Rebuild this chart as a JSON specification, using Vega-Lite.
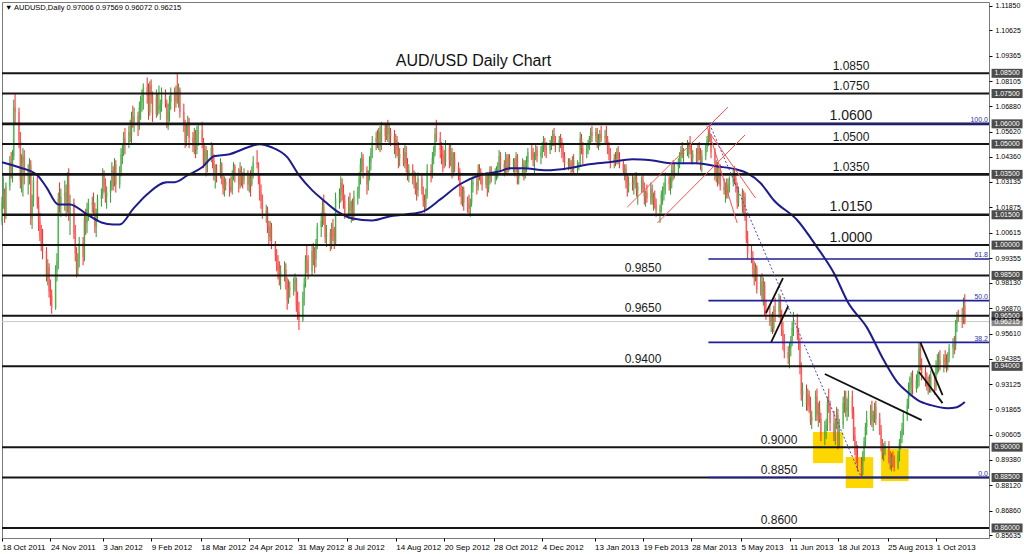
{
"$schema":"https://vega.github.io/schema/vega-lite/v6.json",
"width":987,"height":536,
"autosize":{"type":"none"},
"padding":{"left":2,"top":2,"right":35,"bottom":16},
"background":"white",
"title":{"text":"AUD/USD Daily Chart","fontSize":16,"fontWeight":"normal","font":"Liberation Sans","color":"#111111","anchor":"middle","frame":"group","offset":0,"dy":80,"dx":-22,"baseline":"alphabetic"},
"config":{"view":{"stroke":"#7a7a7a","strokeWidth":1},"scale":{"zero":false},"axis":{"grid":false,"domain":false,"labelFont":"Liberation Sans","labelColor":"#000000","tickColor":"#000000"},"text":{"font":"Liberation Sans"}},
"encoding":{
 "x":{"type":"temporal","scale":{"type":"utc","domain":[{"year":2011,"month":10,"date":18,"utc":true},{"year":2013,"month":11,"date":10,"hours":12,"utc":true}]},
  "axis":{"values":[{"year":2011,"month":10,"date":18,"utc":true},{"year":2011,"month":11,"date":24,"utc":true},{"year":2012,"month":1,"date":3,"utc":true},{"year":2012,"month":2,"date":9,"utc":true},{"year":2012,"month":3,"date":18,"utc":true},{"year":2012,"month":4,"date":24,"utc":true},{"year":2012,"month":5,"date":31,"utc":true},{"year":2012,"month":7,"date":8,"utc":true},{"year":2012,"month":8,"date":14,"utc":true},{"year":2012,"month":9,"date":20,"utc":true},{"year":2012,"month":10,"date":28,"utc":true},{"year":2012,"month":12,"date":4,"utc":true},{"year":2013,"month":1,"date":13,"utc":true},{"year":2013,"month":2,"date":19,"utc":true},{"year":2013,"month":3,"date":28,"utc":true},{"year":2013,"month":5,"date":5,"utc":true},{"year":2013,"month":6,"date":11,"utc":true},{"year":2013,"month":7,"date":18,"utc":true},{"year":2013,"month":8,"date":25,"utc":true},{"year":2013,"month":10,"date":1,"utc":true}],
   "labelExpr":"utcFormat(datum.value, '%-d %b %Y')","labelAlign":"left","labelFontSize":8,"tickSize":3,"labelPadding":2,"title":null,"labelOverlap":false,"labelFlush":false}},
 "y":{"type":"quantitative","scale":{"domain":[0.85505,1.1203],"zero":false,"nice":false},
  "axis":{"orient":"right","values":[1.1185,1.10625,1.09365,1.08105,1.0688,1.0562,1.0436,1.03135,1.01875,1.00615,0.99355,0.9813,0.9687,0.9561,0.94385,0.93125,0.91865,0.90605,0.8938,0.8812,0.8686,0.85635],"format":".5f","labelFontSize":7,"tickSize":3,"labelPadding":3,"title":null,"labelOverlap":false}}
},
"datasets":{
"c":[
{"d":"2011-10-18","o":1.012,"h":1.024,"l":1.010,"c":1.021},{"d":"2011-10-19","o":1.021,"h":1.034,"l":1.018,"c":1.026},{"d":"2011-10-20","o":1.026,"h":1.028,"l":1.011,"c":1.015},{"d":"2011-10-21","o":1.015,"h":1.031,"l":1.013,"c":1.029},
{"d":"2011-10-24","o":1.029,"h":1.044,"l":1.027,"c":1.041},{"d":"2011-10-25","o":1.041,"h":1.046,"l":1.033,"c":1.037},{"d":"2011-10-26","o":1.037,"h":1.047,"l":1.031,"c":1.044},{"d":"2011-10-27","o":1.044,"h":1.072,"l":1.042,"c":1.068},{"d":"2011-10-28","o":1.068,"h":1.075,"l":1.060,"c":1.066},
{"d":"2011-10-31","o":1.066,"h":1.068,"l":1.048,"c":1.052},{"d":"2011-11-01","o":1.052,"h":1.056,"l":1.028,"c":1.032},{"d":"2011-11-02","o":1.032,"h":1.045,"l":1.026,"c":1.041},{"d":"2011-11-03","o":1.041,"h":1.048,"l":1.024,"c":1.044},{"d":"2011-11-04","o":1.044,"h":1.047,"l":1.030,"c":1.034},
{"d":"2011-11-07","o":1.034,"h":1.040,"l":1.025,"c":1.037},{"d":"2011-11-08","o":1.037,"h":1.043,"l":1.030,"c":1.040},{"d":"2011-11-09","o":1.040,"h":1.042,"l":1.010,"c":1.013},{"d":"2011-11-10","o":1.013,"h":1.025,"l":1.008,"c":1.022},{"d":"2011-11-11","o":1.022,"h":1.034,"l":1.019,"c":1.032},
{"d":"2011-11-14","o":1.032,"h":1.034,"l":1.018,"c":1.020},{"d":"2011-11-15","o":1.020,"h":1.024,"l":1.007,"c":1.012},{"d":"2011-11-16","o":1.012,"h":1.016,"l":1.002,"c":1.004},{"d":"2011-11-17","o":1.004,"h":1.010,"l":0.997,"c":1.001},{"d":"2011-11-18","o":1.001,"h":1.008,"l":0.993,"c":0.997},
{"d":"2011-11-21","o":0.997,"h":0.999,"l":0.982,"c":0.985},{"d":"2011-11-22","o":0.985,"h":0.993,"l":0.980,"c":0.989},{"d":"2011-11-23","o":0.989,"h":0.991,"l":0.974,"c":0.977},{"d":"2011-11-24","o":0.977,"h":0.983,"l":0.970,"c":0.975},{"d":"2011-11-25","o":0.975,"h":0.978,"l":0.966,"c":0.969},
{"d":"2011-11-28","o":0.969,"h":0.990,"l":0.968,"c":0.987},{"d":"2011-11-29","o":0.987,"h":0.996,"l":0.982,"c":0.992},{"d":"2011-11-30","o":0.992,"h":1.026,"l":0.988,"c":1.023},{"d":"2011-12-01","o":1.023,"h":1.031,"l":1.016,"c":1.020},{"d":"2011-12-02","o":1.020,"h":1.028,"l":1.014,"c":1.024},
{"d":"2011-12-05","o":1.024,"h":1.032,"l":1.017,"c":1.026},{"d":"2011-12-06","o":1.026,"h":1.030,"l":1.014,"c":1.020},{"d":"2011-12-07","o":1.020,"h":1.036,"l":1.016,"c":1.030},{"d":"2011-12-08","o":1.030,"h":1.038,"l":1.012,"c":1.015},{"d":"2011-12-09","o":1.015,"h":1.025,"l":1.005,"c":1.021},
{"d":"2011-12-12","o":1.021,"h":1.023,"l":1.003,"c":1.006},{"d":"2011-12-13","o":1.006,"h":1.010,"l":0.992,"c":0.996},{"d":"2011-12-14","o":0.996,"h":0.999,"l":0.984,"c":0.988},{"d":"2011-12-15","o":0.988,"h":0.996,"l":0.985,"c":0.993},{"d":"2011-12-16","o":0.993,"h":1.004,"l":0.989,"c":1.001},
{"d":"2011-12-19","o":1.001,"h":1.004,"l":0.990,"c":0.994},{"d":"2011-12-20","o":0.994,"h":1.015,"l":0.992,"c":1.013},{"d":"2011-12-21","o":1.013,"h":1.018,"l":1.005,"c":1.011},{"d":"2011-12-22","o":1.011,"h":1.021,"l":1.006,"c":1.018},{"d":"2011-12-23","o":1.018,"h":1.023,"l":1.012,"c":1.020},
{"d":"2011-12-26","o":1.020,"h":1.024,"l":1.016,"c":1.021},{"d":"2011-12-27","o":1.021,"h":1.026,"l":1.015,"c":1.018},{"d":"2011-12-28","o":1.018,"h":1.021,"l":1.006,"c":1.009},{"d":"2011-12-29","o":1.009,"h":1.018,"l":1.004,"c":1.015},{"d":"2011-12-30","o":1.015,"h":1.025,"l":1.012,"c":1.023},
{"d":"2012-01-02","o":1.023,"h":1.028,"l":1.019,"c":1.025},{"d":"2012-01-03","o":1.025,"h":1.038,"l":1.023,"c":1.035},{"d":"2012-01-04","o":1.035,"h":1.037,"l":1.026,"c":1.030},{"d":"2012-01-05","o":1.030,"h":1.033,"l":1.021,"c":1.024},{"d":"2012-01-06","o":1.024,"h":1.029,"l":1.018,"c":1.026},
{"d":"2012-01-09","o":1.026,"h":1.032,"l":1.021,"c":1.029},{"d":"2012-01-10","o":1.029,"h":1.041,"l":1.027,"c":1.037},{"d":"2012-01-11","o":1.037,"h":1.039,"l":1.027,"c":1.031},{"d":"2012-01-12","o":1.031,"h":1.043,"l":1.029,"c":1.040},{"d":"2012-01-13","o":1.040,"h":1.042,"l":1.026,"c":1.030},
{"d":"2012-01-16","o":1.030,"h":1.039,"l":1.028,"c":1.036},{"d":"2012-01-17","o":1.036,"h":1.048,"l":1.034,"c":1.045},{"d":"2012-01-18","o":1.045,"h":1.050,"l":1.040,"c":1.047},{"d":"2012-01-19","o":1.047,"h":1.056,"l":1.044,"c":1.053},{"d":"2012-01-20","o":1.053,"h":1.058,"l":1.045,"c":1.050},
{"d":"2012-01-23","o":1.050,"h":1.059,"l":1.048,"c":1.056},{"d":"2012-01-24","o":1.056,"h":1.062,"l":1.051,"c":1.054},{"d":"2012-01-25","o":1.054,"h":1.066,"l":1.050,"c":1.063},{"d":"2012-01-26","o":1.063,"h":1.069,"l":1.058,"c":1.061},{"d":"2012-01-27","o":1.061,"h":1.068,"l":1.056,"c":1.064},
{"d":"2012-01-30","o":1.064,"h":1.066,"l":1.054,"c":1.060},{"d":"2012-01-31","o":1.060,"h":1.071,"l":1.057,"c":1.068},{"d":"2012-02-01","o":1.068,"h":1.074,"l":1.062,"c":1.071},{"d":"2012-02-02","o":1.071,"h":1.077,"l":1.066,"c":1.073},{"d":"2012-02-03","o":1.073,"h":1.080,"l":1.067,"c":1.078},
{"d":"2012-02-06","o":1.078,"h":1.083,"l":1.070,"c":1.074},{"d":"2012-02-07","o":1.074,"h":1.080,"l":1.062,"c":1.066},{"d":"2012-02-08","o":1.066,"h":1.081,"l":1.064,"c":1.079},{"d":"2012-02-09","o":1.079,"h":1.082,"l":1.070,"c":1.074},{"d":"2012-02-10","o":1.074,"h":1.076,"l":1.061,"c":1.065},
{"d":"2012-02-13","o":1.065,"h":1.077,"l":1.063,"c":1.073},{"d":"2012-02-14","o":1.073,"h":1.075,"l":1.064,"c":1.067},{"d":"2012-02-15","o":1.067,"h":1.079,"l":1.065,"c":1.069},{"d":"2012-02-16","o":1.069,"h":1.072,"l":1.062,"c":1.070},{"d":"2012-02-17","o":1.070,"h":1.078,"l":1.066,"c":1.074},
{"d":"2012-02-20","o":1.074,"h":1.077,"l":1.068,"c":1.070},{"d":"2012-02-21","o":1.070,"h":1.072,"l":1.058,"c":1.062},{"d":"2012-02-22","o":1.062,"h":1.070,"l":1.057,"c":1.066},{"d":"2012-02-23","o":1.066,"h":1.074,"l":1.061,"c":1.071},{"d":"2012-02-24","o":1.071,"h":1.078,"l":1.067,"c":1.075},
{"d":"2012-02-27","o":1.075,"h":1.078,"l":1.066,"c":1.071},{"d":"2012-02-28","o":1.071,"h":1.079,"l":1.068,"c":1.076},{"d":"2012-02-29","o":1.076,"h":1.085,"l":1.070,"c":1.074},{"d":"2012-03-01","o":1.074,"h":1.080,"l":1.068,"c":1.077},{"d":"2012-03-02","o":1.077,"h":1.078,"l":1.063,"c":1.066},
{"d":"2012-03-05","o":1.066,"h":1.070,"l":1.056,"c":1.060},{"d":"2012-03-06","o":1.060,"h":1.062,"l":1.048,"c":1.051},{"d":"2012-03-07","o":1.051,"h":1.060,"l":1.049,"c":1.058},{"d":"2012-03-08","o":1.058,"h":1.064,"l":1.054,"c":1.061},{"d":"2012-03-09","o":1.061,"h":1.063,"l":1.048,"c":1.053},
{"d":"2012-03-12","o":1.053,"h":1.056,"l":1.046,"c":1.049},{"d":"2012-03-13","o":1.049,"h":1.058,"l":1.045,"c":1.055},{"d":"2012-03-14","o":1.055,"h":1.057,"l":1.043,"c":1.047},{"d":"2012-03-15","o":1.047,"h":1.059,"l":1.045,"c":1.055},{"d":"2012-03-16","o":1.055,"h":1.060,"l":1.049,"c":1.057},
{"d":"2012-03-19","o":1.057,"h":1.061,"l":1.048,"c":1.051},{"d":"2012-03-20","o":1.051,"h":1.053,"l":1.038,"c":1.042},{"d":"2012-03-21","o":1.042,"h":1.050,"l":1.039,"c":1.047},{"d":"2012-03-22","o":1.047,"h":1.049,"l":1.034,"c":1.040},{"d":"2012-03-23","o":1.040,"h":1.047,"l":1.036,"c":1.044},
{"d":"2012-03-26","o":1.044,"h":1.051,"l":1.041,"c":1.048},{"d":"2012-03-27","o":1.048,"h":1.050,"l":1.038,"c":1.042},{"d":"2012-03-28","o":1.042,"h":1.045,"l":1.032,"c":1.036},{"d":"2012-03-29","o":1.036,"h":1.040,"l":1.028,"c":1.037},{"d":"2012-03-30","o":1.037,"h":1.040,"l":1.031,"c":1.035},
{"d":"2012-04-02","o":1.035,"h":1.043,"l":1.033,"c":1.040},{"d":"2012-04-03","o":1.040,"h":1.041,"l":1.030,"c":1.033},{"d":"2012-04-04","o":1.033,"h":1.035,"l":1.025,"c":1.028},{"d":"2012-04-05","o":1.028,"h":1.034,"l":1.024,"c":1.031},{"d":"2012-04-06","o":1.031,"h":1.033,"l":1.027,"c":1.030},
{"d":"2012-04-09","o":1.030,"h":1.033,"l":1.024,"c":1.029},{"d":"2012-04-10","o":1.029,"h":1.034,"l":1.026,"c":1.027},{"d":"2012-04-11","o":1.027,"h":1.037,"l":1.025,"c":1.034},{"d":"2012-04-12","o":1.034,"h":1.041,"l":1.032,"c":1.039},{"d":"2012-04-13","o":1.039,"h":1.040,"l":1.031,"c":1.035},
{"d":"2012-04-16","o":1.035,"h":1.038,"l":1.026,"c":1.030},{"d":"2012-04-17","o":1.030,"h":1.041,"l":1.028,"c":1.037},{"d":"2012-04-18","o":1.037,"h":1.039,"l":1.029,"c":1.033},{"d":"2012-04-19","o":1.033,"h":1.036,"l":1.028,"c":1.032},{"d":"2012-04-20","o":1.032,"h":1.038,"l":1.030,"c":1.036},
{"d":"2012-04-23","o":1.036,"h":1.037,"l":1.027,"c":1.030},{"d":"2012-04-24","o":1.030,"h":1.035,"l":1.026,"c":1.033},{"d":"2012-04-25","o":1.033,"h":1.037,"l":1.024,"c":1.030},{"d":"2012-04-26","o":1.030,"h":1.039,"l":1.029,"c":1.036},{"d":"2012-04-27","o":1.036,"h":1.044,"l":1.033,"c":1.041},
{"d":"2012-04-30","o":1.041,"h":1.047,"l":1.038,"c":1.040},{"d":"2012-05-01","o":1.040,"h":1.041,"l":1.030,"c":1.033},{"d":"2012-05-02","o":1.033,"h":1.035,"l":1.022,"c":1.026},{"d":"2012-05-03","o":1.026,"h":1.030,"l":1.018,"c":1.022},{"d":"2012-05-04","o":1.022,"h":1.025,"l":1.013,"c":1.016},
{"d":"2012-05-07","o":1.016,"h":1.020,"l":1.011,"c":1.017},{"d":"2012-05-08","o":1.017,"h":1.019,"l":1.006,"c":1.009},{"d":"2012-05-09","o":1.009,"h":1.012,"l":1.000,"c":1.004},{"d":"2012-05-10","o":1.004,"h":1.012,"l":1.002,"c":1.009},{"d":"2012-05-11","o":1.009,"h":1.011,"l":0.998,"c":1.001},
{"d":"2012-05-14","o":1.001,"h":1.002,"l":0.992,"c":0.995},{"d":"2012-05-15","o":0.995,"h":0.998,"l":0.987,"c":0.991},{"d":"2012-05-16","o":0.991,"h":0.995,"l":0.983,"c":0.988},{"d":"2012-05-17","o":0.988,"h":0.992,"l":0.980,"c":0.984},{"d":"2012-05-18","o":0.984,"h":0.990,"l":0.978,"c":0.987},
{"d":"2012-05-21","o":0.987,"h":0.992,"l":0.982,"c":0.988},{"d":"2012-05-22","o":0.988,"h":0.991,"l":0.978,"c":0.981},{"d":"2012-05-23","o":0.981,"h":0.984,"l":0.968,"c":0.973},{"d":"2012-05-24","o":0.973,"h":0.983,"l":0.971,"c":0.979},{"d":"2012-05-25","o":0.979,"h":0.982,"l":0.974,"c":0.978},
{"d":"2012-05-28","o":0.978,"h":0.984,"l":0.975,"c":0.981},{"d":"2012-05-29","o":0.981,"h":0.986,"l":0.977,"c":0.983},{"d":"2012-05-30","o":0.983,"h":0.984,"l":0.967,"c":0.970},{"d":"2012-05-31","o":0.970,"h":0.977,"l":0.963,"c":0.967},{"d":"2012-06-01","o":0.967,"h":0.972,"l":0.958,"c":0.963},
{"d":"2012-06-04","o":0.963,"h":0.977,"l":0.962,"c":0.974},{"d":"2012-06-05","o":0.974,"h":0.984,"l":0.970,"c":0.981},{"d":"2012-06-06","o":0.981,"h":0.995,"l":0.979,"c":0.993},{"d":"2012-06-07","o":0.993,"h":1.000,"l":0.986,"c":0.992},{"d":"2012-06-08","o":0.992,"h":0.995,"l":0.983,"c":0.987},
{"d":"2012-06-11","o":0.987,"h":1.000,"l":0.985,"c":0.997},{"d":"2012-06-12","o":0.997,"h":1.001,"l":0.990,"c":0.995},{"d":"2012-06-13","o":0.995,"h":0.999,"l":0.986,"c":0.993},{"d":"2012-06-14","o":0.993,"h":1.003,"l":0.989,"c":1.001},{"d":"2012-06-15","o":1.001,"h":1.011,"l":0.998,"c":1.009},
{"d":"2012-06-18","o":1.009,"h":1.016,"l":1.004,"c":1.012},{"d":"2012-06-19","o":1.012,"h":1.022,"l":1.009,"c":1.019},{"d":"2012-06-20","o":1.019,"h":1.025,"l":1.010,"c":1.013},{"d":"2012-06-21","o":1.013,"h":1.016,"l":1.001,"c":1.004},{"d":"2012-06-22","o":1.004,"h":1.010,"l":0.999,"c":1.006},
{"d":"2012-06-25","o":1.006,"h":1.008,"l":0.997,"c":1.000},{"d":"2012-06-26","o":1.000,"h":1.011,"l":0.998,"c":1.008},{"d":"2012-06-27","o":1.008,"h":1.013,"l":1.002,"c":1.004},{"d":"2012-06-28","o":1.004,"h":1.009,"l":0.998,"c":1.001},{"d":"2012-06-29","o":1.001,"h":1.026,"l":1.000,"c":1.023},
{"d":"2012-07-02","o":1.023,"h":1.028,"l":1.018,"c":1.025},{"d":"2012-07-03","o":1.025,"h":1.034,"l":1.021,"c":1.031},{"d":"2012-07-04","o":1.031,"h":1.033,"l":1.022,"c":1.026},{"d":"2012-07-05","o":1.026,"h":1.030,"l":1.018,"c":1.022},{"d":"2012-07-06","o":1.022,"h":1.025,"l":1.013,"c":1.016},
{"d":"2012-07-09","o":1.016,"h":1.024,"l":1.013,"c":1.021},{"d":"2012-07-10","o":1.021,"h":1.026,"l":1.014,"c":1.017},{"d":"2012-07-11","o":1.017,"h":1.022,"l":1.011,"c":1.019},{"d":"2012-07-12","o":1.019,"h":1.023,"l":1.012,"c":1.014},{"d":"2012-07-13","o":1.014,"h":1.027,"l":1.012,"c":1.024},
{"d":"2012-07-16","o":1.024,"h":1.029,"l":1.020,"c":1.027},{"d":"2012-07-17","o":1.027,"h":1.036,"l":1.023,"c":1.033},{"d":"2012-07-18","o":1.033,"h":1.043,"l":1.030,"c":1.040},{"d":"2012-07-19","o":1.040,"h":1.046,"l":1.036,"c":1.043},{"d":"2012-07-20","o":1.043,"h":1.045,"l":1.033,"c":1.037},
{"d":"2012-07-23","o":1.037,"h":1.039,"l":1.025,"c":1.030},{"d":"2012-07-24","o":1.030,"h":1.037,"l":1.027,"c":1.035},{"d":"2012-07-25","o":1.035,"h":1.044,"l":1.032,"c":1.041},{"d":"2012-07-26","o":1.041,"h":1.048,"l":1.037,"c":1.046},{"d":"2012-07-27","o":1.046,"h":1.054,"l":1.043,"c":1.051},
{"d":"2012-07-30","o":1.051,"h":1.056,"l":1.047,"c":1.053},{"d":"2012-07-31","o":1.053,"h":1.057,"l":1.048,"c":1.050},{"d":"2012-08-01","o":1.050,"h":1.058,"l":1.047,"c":1.056},{"d":"2012-08-02","o":1.056,"h":1.059,"l":1.046,"c":1.049},{"d":"2012-08-03","o":1.049,"h":1.061,"l":1.047,"c":1.058},
{"d":"2012-08-06","o":1.058,"h":1.060,"l":1.051,"c":1.054},{"d":"2012-08-07","o":1.054,"h":1.060,"l":1.052,"c":1.058},{"d":"2012-08-08","o":1.058,"h":1.062,"l":1.051,"c":1.055},{"d":"2012-08-09","o":1.055,"h":1.060,"l":1.050,"c":1.056},{"d":"2012-08-10","o":1.056,"h":1.058,"l":1.049,"c":1.054},
{"d":"2012-08-13","o":1.054,"h":1.057,"l":1.045,"c":1.049},{"d":"2012-08-14","o":1.049,"h":1.055,"l":1.043,"c":1.052},{"d":"2012-08-15","o":1.052,"h":1.054,"l":1.044,"c":1.047},{"d":"2012-08-16","o":1.047,"h":1.051,"l":1.038,"c":1.043},{"d":"2012-08-17","o":1.043,"h":1.048,"l":1.039,"c":1.045},
{"d":"2012-08-20","o":1.045,"h":1.048,"l":1.039,"c":1.041},{"d":"2012-08-21","o":1.041,"h":1.050,"l":1.038,"c":1.046},{"d":"2012-08-22","o":1.046,"h":1.049,"l":1.036,"c":1.040},{"d":"2012-08-23","o":1.040,"h":1.043,"l":1.032,"c":1.035},{"d":"2012-08-24","o":1.035,"h":1.040,"l":1.031,"c":1.037},
{"d":"2012-08-27","o":1.037,"h":1.040,"l":1.030,"c":1.033},{"d":"2012-08-28","o":1.033,"h":1.037,"l":1.028,"c":1.034},{"d":"2012-08-29","o":1.034,"h":1.036,"l":1.025,"c":1.028},{"d":"2012-08-30","o":1.028,"h":1.031,"l":1.022,"c":1.027},{"d":"2012-08-31","o":1.027,"h":1.036,"l":1.024,"c":1.033},
{"d":"2012-09-03","o":1.033,"h":1.035,"l":1.025,"c":1.027},{"d":"2012-09-04","o":1.027,"h":1.029,"l":1.019,"c":1.022},{"d":"2012-09-05","o":1.022,"h":1.025,"l":1.016,"c":1.019},{"d":"2012-09-06","o":1.019,"h":1.028,"l":1.017,"c":1.025},{"d":"2012-09-07","o":1.025,"h":1.040,"l":1.023,"c":1.037},
{"d":"2012-09-10","o":1.037,"h":1.040,"l":1.031,"c":1.035},{"d":"2012-09-11","o":1.035,"h":1.046,"l":1.033,"c":1.043},{"d":"2012-09-12","o":1.043,"h":1.049,"l":1.040,"c":1.046},{"d":"2012-09-13","o":1.046,"h":1.058,"l":1.044,"c":1.055},{"d":"2012-09-14","o":1.055,"h":1.062,"l":1.051,"c":1.053},
{"d":"2012-09-17","o":1.053,"h":1.056,"l":1.043,"c":1.047},{"d":"2012-09-18","o":1.047,"h":1.051,"l":1.040,"c":1.045},{"d":"2012-09-19","o":1.045,"h":1.049,"l":1.036,"c":1.044},{"d":"2012-09-20","o":1.044,"h":1.047,"l":1.038,"c":1.041},{"d":"2012-09-21","o":1.041,"h":1.052,"l":1.039,"c":1.048},
{"d":"2012-09-24","o":1.048,"h":1.050,"l":1.038,"c":1.042},{"d":"2012-09-25","o":1.042,"h":1.050,"l":1.039,"c":1.046},{"d":"2012-09-26","o":1.046,"h":1.048,"l":1.033,"c":1.036},{"d":"2012-09-27","o":1.036,"h":1.046,"l":1.034,"c":1.043},{"d":"2012-09-28","o":1.043,"h":1.046,"l":1.036,"c":1.039},
{"d":"2012-10-01","o":1.039,"h":1.041,"l":1.032,"c":1.036},{"d":"2012-10-02","o":1.036,"h":1.038,"l":1.024,"c":1.027},{"d":"2012-10-03","o":1.027,"h":1.030,"l":1.020,"c":1.024},{"d":"2012-10-04","o":1.024,"h":1.029,"l":1.019,"c":1.027},{"d":"2012-10-05","o":1.027,"h":1.029,"l":1.017,"c":1.021},
{"d":"2012-10-08","o":1.021,"h":1.024,"l":1.016,"c":1.020},{"d":"2012-10-09","o":1.020,"h":1.025,"l":1.015,"c":1.018},{"d":"2012-10-10","o":1.018,"h":1.023,"l":1.014,"c":1.021},{"d":"2012-10-11","o":1.021,"h":1.033,"l":1.019,"c":1.030},{"d":"2012-10-12","o":1.030,"h":1.034,"l":1.026,"c":1.031},
{"d":"2012-10-15","o":1.031,"h":1.034,"l":1.025,"c":1.029},{"d":"2012-10-16","o":1.029,"h":1.040,"l":1.027,"c":1.037},{"d":"2012-10-17","o":1.037,"h":1.040,"l":1.032,"c":1.035},{"d":"2012-10-18","o":1.035,"h":1.038,"l":1.030,"c":1.033},{"d":"2012-10-19","o":1.033,"h":1.036,"l":1.027,"c":1.030},
{"d":"2012-10-22","o":1.030,"h":1.036,"l":1.028,"c":1.034},{"d":"2012-10-23","o":1.034,"h":1.036,"l":1.024,"c":1.028},{"d":"2012-10-24","o":1.028,"h":1.035,"l":1.026,"c":1.033},{"d":"2012-10-25","o":1.033,"h":1.039,"l":1.030,"c":1.037},{"d":"2012-10-26","o":1.037,"h":1.039,"l":1.031,"c":1.035},
{"d":"2012-10-29","o":1.035,"h":1.038,"l":1.030,"c":1.036},{"d":"2012-10-30","o":1.036,"h":1.039,"l":1.032,"c":1.037},{"d":"2012-10-31","o":1.037,"h":1.041,"l":1.033,"c":1.038},{"d":"2012-11-01","o":1.038,"h":1.047,"l":1.036,"c":1.044},{"d":"2012-11-02","o":1.044,"h":1.046,"l":1.036,"c":1.040},
{"d":"2012-11-05","o":1.040,"h":1.042,"l":1.034,"c":1.037},{"d":"2012-11-06","o":1.037,"h":1.046,"l":1.035,"c":1.043},{"d":"2012-11-07","o":1.043,"h":1.045,"l":1.035,"c":1.038},{"d":"2012-11-08","o":1.038,"h":1.045,"l":1.036,"c":1.043},{"d":"2012-11-09","o":1.043,"h":1.045,"l":1.037,"c":1.040},
{"d":"2012-11-12","o":1.040,"h":1.043,"l":1.036,"c":1.041},{"d":"2012-11-13","o":1.041,"h":1.043,"l":1.034,"c":1.038},{"d":"2012-11-14","o":1.038,"h":1.046,"l":1.036,"c":1.044},{"d":"2012-11-15","o":1.044,"h":1.045,"l":1.030,"c":1.033},{"d":"2012-11-16","o":1.033,"h":1.038,"l":1.030,"c":1.035},
{"d":"2012-11-19","o":1.035,"h":1.043,"l":1.034,"c":1.040},{"d":"2012-11-20","o":1.040,"h":1.042,"l":1.032,"c":1.036},{"d":"2012-11-21","o":1.036,"h":1.042,"l":1.033,"c":1.039},{"d":"2012-11-22","o":1.039,"h":1.044,"l":1.036,"c":1.041},{"d":"2012-11-23","o":1.041,"h":1.048,"l":1.038,"c":1.046},
{"d":"2012-11-26","o":1.046,"h":1.050,"l":1.042,"c":1.045},{"d":"2012-11-27","o":1.045,"h":1.048,"l":1.039,"c":1.043},{"d":"2012-11-28","o":1.043,"h":1.046,"l":1.035,"c":1.044},{"d":"2012-11-29","o":1.044,"h":1.050,"l":1.042,"c":1.047},{"d":"2012-11-30","o":1.047,"h":1.049,"l":1.041,"c":1.044},
{"d":"2012-12-03","o":1.044,"h":1.049,"l":1.040,"c":1.046},{"d":"2012-12-04","o":1.046,"h":1.051,"l":1.043,"c":1.049},{"d":"2012-12-05","o":1.049,"h":1.054,"l":1.046,"c":1.050},{"d":"2012-12-06","o":1.050,"h":1.053,"l":1.044,"c":1.048},{"d":"2012-12-07","o":1.048,"h":1.051,"l":1.043,"c":1.047},
{"d":"2012-12-10","o":1.047,"h":1.052,"l":1.045,"c":1.050},{"d":"2012-12-11","o":1.050,"h":1.054,"l":1.047,"c":1.052},{"d":"2012-12-12","o":1.052,"h":1.057,"l":1.049,"c":1.055},{"d":"2012-12-13","o":1.055,"h":1.058,"l":1.049,"c":1.051},{"d":"2012-12-14","o":1.051,"h":1.054,"l":1.046,"c":1.050},
{"d":"2012-12-17","o":1.050,"h":1.054,"l":1.046,"c":1.052},{"d":"2012-12-18","o":1.052,"h":1.055,"l":1.048,"c":1.051},{"d":"2012-12-19","o":1.051,"h":1.053,"l":1.043,"c":1.046},{"d":"2012-12-20","o":1.046,"h":1.050,"l":1.041,"c":1.044},{"d":"2012-12-21","o":1.044,"h":1.046,"l":1.037,"c":1.040},
{"d":"2012-12-24","o":1.040,"h":1.043,"l":1.037,"c":1.041},{"d":"2012-12-25","o":1.041,"h":1.043,"l":1.038,"c":1.040},{"d":"2012-12-26","o":1.040,"h":1.042,"l":1.035,"c":1.038},{"d":"2012-12-27","o":1.038,"h":1.044,"l":1.036,"c":1.042},{"d":"2012-12-28","o":1.042,"h":1.045,"l":1.035,"c":1.038},
{"d":"2012-12-31","o":1.038,"h":1.042,"l":1.035,"c":1.039},{"d":"2013-01-01","o":1.039,"h":1.041,"l":1.037,"c":1.040},{"d":"2013-01-02","o":1.040,"h":1.056,"l":1.039,"c":1.053},{"d":"2013-01-03","o":1.053,"h":1.055,"l":1.045,"c":1.048},{"d":"2013-01-04","o":1.048,"h":1.051,"l":1.040,"c":1.045},
{"d":"2013-01-07","o":1.045,"h":1.050,"l":1.043,"c":1.048},{"d":"2013-01-08","o":1.048,"h":1.052,"l":1.045,"c":1.050},{"d":"2013-01-09","o":1.050,"h":1.054,"l":1.047,"c":1.053},{"d":"2013-01-10","o":1.053,"h":1.058,"l":1.050,"c":1.056},{"d":"2013-01-11","o":1.056,"h":1.059,"l":1.051,"c":1.054},
{"d":"2013-01-14","o":1.054,"h":1.058,"l":1.051,"c":1.056},{"d":"2013-01-15","o":1.056,"h":1.058,"l":1.048,"c":1.050},{"d":"2013-01-16","o":1.050,"h":1.055,"l":1.047,"c":1.052},{"d":"2013-01-17","o":1.052,"h":1.057,"l":1.049,"c":1.055},{"d":"2013-01-18","o":1.055,"h":1.059,"l":1.051,"c":1.053},
{"d":"2013-01-21","o":1.053,"h":1.057,"l":1.050,"c":1.054},{"d":"2013-01-22","o":1.054,"h":1.059,"l":1.050,"c":1.052},{"d":"2013-01-23","o":1.052,"h":1.054,"l":1.045,"c":1.048},{"d":"2013-01-24","o":1.048,"h":1.051,"l":1.042,"c":1.045},{"d":"2013-01-25","o":1.045,"h":1.048,"l":1.038,"c":1.041},
{"d":"2013-01-28","o":1.041,"h":1.045,"l":1.038,"c":1.043},{"d":"2013-01-29","o":1.043,"h":1.046,"l":1.039,"c":1.041},{"d":"2013-01-30","o":1.041,"h":1.048,"l":1.040,"c":1.046},{"d":"2013-01-31","o":1.046,"h":1.049,"l":1.040,"c":1.043},{"d":"2013-02-01","o":1.043,"h":1.046,"l":1.038,"c":1.040},
{"d":"2013-02-04","o":1.040,"h":1.042,"l":1.035,"c":1.037},{"d":"2013-02-05","o":1.037,"h":1.040,"l":1.032,"c":1.038},{"d":"2013-02-06","o":1.038,"h":1.040,"l":1.028,"c":1.031},{"d":"2013-02-07","o":1.031,"h":1.035,"l":1.024,"c":1.029},{"d":"2013-02-08","o":1.029,"h":1.034,"l":1.026,"c":1.031},
{"d":"2013-02-11","o":1.031,"h":1.035,"l":1.027,"c":1.030},{"d":"2013-02-12","o":1.030,"h":1.034,"l":1.025,"c":1.032},{"d":"2013-02-13","o":1.032,"h":1.036,"l":1.028,"c":1.034},{"d":"2013-02-14","o":1.034,"h":1.036,"l":1.024,"c":1.027},{"d":"2013-02-15","o":1.027,"h":1.031,"l":1.020,"c":1.029},
{"d":"2013-02-18","o":1.029,"h":1.034,"l":1.026,"c":1.032},{"d":"2013-02-19","o":1.032,"h":1.035,"l":1.026,"c":1.028},{"d":"2013-02-20","o":1.028,"h":1.031,"l":1.020,"c":1.024},{"d":"2013-02-21","o":1.024,"h":1.027,"l":1.019,"c":1.026},{"d":"2013-02-22","o":1.026,"h":1.030,"l":1.021,"c":1.023},
{"d":"2013-02-25","o":1.023,"h":1.031,"l":1.020,"c":1.028},{"d":"2013-02-26","o":1.028,"h":1.030,"l":1.020,"c":1.022},{"d":"2013-02-27","o":1.022,"h":1.026,"l":1.017,"c":1.024},{"d":"2013-02-28","o":1.024,"h":1.027,"l":1.018,"c":1.020},{"d":"2013-03-01","o":1.020,"h":1.023,"l":1.014,"c":1.017},
{"d":"2013-03-04","o":1.017,"h":1.020,"l":1.011,"c":1.018},{"d":"2013-03-05","o":1.018,"h":1.027,"l":1.016,"c":1.025},{"d":"2013-03-06","o":1.025,"h":1.029,"l":1.020,"c":1.027},{"d":"2013-03-07","o":1.027,"h":1.031,"l":1.022,"c":1.029},{"d":"2013-03-08","o":1.029,"h":1.036,"l":1.025,"c":1.033},
{"d":"2013-03-11","o":1.033,"h":1.035,"l":1.027,"c":1.030},{"d":"2013-03-12","o":1.030,"h":1.034,"l":1.025,"c":1.031},{"d":"2013-03-13","o":1.031,"h":1.040,"l":1.028,"c":1.037},{"d":"2013-03-14","o":1.037,"h":1.042,"l":1.032,"c":1.035},{"d":"2013-03-15","o":1.035,"h":1.041,"l":1.033,"c":1.039},
{"d":"2013-03-18","o":1.039,"h":1.043,"l":1.035,"c":1.041},{"d":"2013-03-19","o":1.041,"h":1.046,"l":1.038,"c":1.044},{"d":"2013-03-20","o":1.044,"h":1.049,"l":1.041,"c":1.047},{"d":"2013-03-21","o":1.047,"h":1.051,"l":1.043,"c":1.045},{"d":"2013-03-22","o":1.045,"h":1.048,"l":1.040,"c":1.046},
{"d":"2013-03-25","o":1.046,"h":1.052,"l":1.044,"c":1.048},{"d":"2013-03-26","o":1.048,"h":1.051,"l":1.043,"c":1.050},{"d":"2013-03-27","o":1.050,"h":1.054,"l":1.045,"c":1.047},{"d":"2013-03-28","o":1.047,"h":1.050,"l":1.040,"c":1.043},{"d":"2013-03-29","o":1.043,"h":1.047,"l":1.040,"c":1.045},
{"d":"2013-04-01","o":1.045,"h":1.048,"l":1.040,"c":1.042},{"d":"2013-04-02","o":1.042,"h":1.050,"l":1.041,"c":1.048},{"d":"2013-04-03","o":1.048,"h":1.051,"l":1.042,"c":1.045},{"d":"2013-04-04","o":1.045,"h":1.048,"l":1.037,"c":1.040},{"d":"2013-04-05","o":1.040,"h":1.047,"l":1.036,"c":1.044},
{"d":"2013-04-08","o":1.044,"h":1.050,"l":1.042,"c":1.048},{"d":"2013-04-09","o":1.048,"h":1.054,"l":1.046,"c":1.052},{"d":"2013-04-10","o":1.052,"h":1.057,"l":1.049,"c":1.055},{"d":"2013-04-11","o":1.055,"h":1.060,"l":1.051,"c":1.053},{"d":"2013-04-12","o":1.053,"h":1.055,"l":1.043,"c":1.046},
{"d":"2013-04-15","o":1.046,"h":1.048,"l":1.032,"c":1.035},{"d":"2013-04-16","o":1.035,"h":1.042,"l":1.031,"c":1.038},{"d":"2013-04-17","o":1.038,"h":1.041,"l":1.029,"c":1.033},{"d":"2013-04-18","o":1.033,"h":1.039,"l":1.030,"c":1.036},{"d":"2013-04-19","o":1.036,"h":1.040,"l":1.027,"c":1.029},
{"d":"2013-04-22","o":1.029,"h":1.033,"l":1.025,"c":1.027},{"d":"2013-04-23","o":1.027,"h":1.031,"l":1.021,"c":1.030},{"d":"2013-04-24","o":1.030,"h":1.033,"l":1.023,"c":1.025},{"d":"2013-04-25","o":1.025,"h":1.033,"l":1.023,"c":1.030},{"d":"2013-04-26","o":1.030,"h":1.034,"l":1.026,"c":1.031},
{"d":"2013-04-29","o":1.031,"h":1.038,"l":1.029,"c":1.035},{"d":"2013-04-30","o":1.035,"h":1.039,"l":1.030,"c":1.033},{"d":"2013-05-01","o":1.033,"h":1.035,"l":1.026,"c":1.029},{"d":"2013-05-02","o":1.029,"h":1.031,"l":1.018,"c":1.021},{"d":"2013-05-03","o":1.021,"h":1.029,"l":1.019,"c":1.026},
{"d":"2013-05-06","o":1.026,"h":1.028,"l":1.016,"c":1.019},{"d":"2013-05-07","o":1.019,"h":1.027,"l":1.015,"c":1.024},{"d":"2013-05-08","o":1.024,"h":1.026,"l":1.012,"c":1.014},{"d":"2013-05-09","o":1.014,"h":1.016,"l":1.001,"c":1.003},{"d":"2013-05-10","o":1.003,"h":1.007,"l":0.993,"c":0.996},
{"d":"2013-05-13","o":0.996,"h":1.000,"l":0.991,"c":0.994},{"d":"2013-05-14","o":0.994,"h":0.997,"l":0.984,"c":0.988},{"d":"2013-05-15","o":0.988,"h":0.992,"l":0.980,"c":0.985},{"d":"2013-05-16","o":0.985,"h":0.991,"l":0.982,"c":0.989},{"d":"2013-05-17","o":0.989,"h":0.990,"l":0.976,"c":0.978},
{"d":"2013-05-20","o":0.978,"h":0.985,"l":0.975,"c":0.982},{"d":"2013-05-21","o":0.982,"h":0.986,"l":0.972,"c":0.974},{"d":"2013-05-22","o":0.974,"h":0.984,"l":0.970,"c":0.980},{"d":"2013-05-23","o":0.980,"h":0.982,"l":0.965,"c":0.968},{"d":"2013-05-24","o":0.968,"h":0.973,"l":0.963,"c":0.966},
{"d":"2013-05-27","o":0.966,"h":0.970,"l":0.960,"c":0.962},{"d":"2013-05-28","o":0.962,"h":0.966,"l":0.957,"c":0.964},{"d":"2013-05-29","o":0.964,"h":0.967,"l":0.956,"c":0.959},{"d":"2013-05-30","o":0.959,"h":0.970,"l":0.957,"c":0.968},{"d":"2013-05-31","o":0.968,"h":0.974,"l":0.962,"c":0.967},
{"d":"2013-06-03","o":0.967,"h":0.976,"l":0.964,"c":0.972},{"d":"2013-06-04","o":0.972,"h":0.975,"l":0.962,"c":0.965},{"d":"2013-06-05","o":0.965,"h":0.968,"l":0.955,"c":0.958},{"d":"2013-06-06","o":0.958,"h":0.962,"l":0.948,"c":0.951},{"d":"2013-06-07","o":0.951,"h":0.956,"l":0.944,"c":0.947},
{"d":"2013-06-10","o":0.947,"h":0.950,"l":0.941,"c":0.944},{"d":"2013-06-11","o":0.944,"h":0.952,"l":0.939,"c":0.949},{"d":"2013-06-12","o":0.949,"h":0.955,"l":0.945,"c":0.953},{"d":"2013-06-13","o":0.953,"h":0.962,"l":0.950,"c":0.959},{"d":"2013-06-14","o":0.959,"h":0.967,"l":0.955,"c":0.963},
{"d":"2013-06-17","o":0.963,"h":0.966,"l":0.953,"c":0.956},{"d":"2013-06-18","o":0.956,"h":0.959,"l":0.948,"c":0.951},{"d":"2013-06-19","o":0.951,"h":0.954,"l":0.936,"c":0.939},{"d":"2013-06-20","o":0.939,"h":0.942,"l":0.923,"c":0.926},{"d":"2013-06-21","o":0.926,"h":0.932,"l":0.920,"c":0.928},
{"d":"2013-06-24","o":0.928,"h":0.931,"l":0.918,"c":0.921},{"d":"2013-06-25","o":0.921,"h":0.929,"l":0.918,"c":0.926},{"d":"2013-06-26","o":0.926,"h":0.928,"l":0.917,"c":0.920},{"d":"2013-06-27","o":0.920,"h":0.925,"l":0.911,"c":0.913},{"d":"2013-06-28","o":0.913,"h":0.918,"l":0.909,"c":0.915},
{"d":"2013-07-01","o":0.915,"h":0.928,"l":0.913,"c":0.925},{"d":"2013-07-02","o":0.925,"h":0.929,"l":0.913,"c":0.916},{"d":"2013-07-03","o":0.916,"h":0.922,"l":0.910,"c":0.919},{"d":"2013-07-04","o":0.919,"h":0.923,"l":0.912,"c":0.914},{"d":"2013-07-05","o":0.914,"h":0.917,"l":0.903,"c":0.906},
{"d":"2013-07-08","o":0.906,"h":0.913,"l":0.901,"c":0.909},{"d":"2013-07-09","o":0.909,"h":0.914,"l":0.904,"c":0.911},{"d":"2013-07-10","o":0.911,"h":0.925,"l":0.908,"c":0.922},{"d":"2013-07-11","o":0.922,"h":0.929,"l":0.917,"c":0.920},{"d":"2013-07-12","o":0.920,"h":0.923,"l":0.908,"c":0.912},
{"d":"2013-07-15","o":0.912,"h":0.918,"l":0.903,"c":0.906},{"d":"2013-07-16","o":0.906,"h":0.914,"l":0.901,"c":0.911},{"d":"2013-07-17","o":0.911,"h":0.920,"l":0.909,"c":0.916},{"d":"2013-07-18","o":0.916,"h":0.919,"l":0.899,"c":0.902},{"d":"2013-07-19","o":0.902,"h":0.914,"l":0.900,"c":0.911},
{"d":"2013-07-22","o":0.911,"h":0.925,"l":0.909,"c":0.922},{"d":"2013-07-23","o":0.922,"h":0.928,"l":0.917,"c":0.925},{"d":"2013-07-24","o":0.925,"h":0.928,"l":0.915,"c":0.918},{"d":"2013-07-25","o":0.918,"h":0.924,"l":0.913,"c":0.920},{"d":"2013-07-26","o":0.920,"h":0.928,"l":0.915,"c":0.925},
{"d":"2013-07-29","o":0.925,"h":0.928,"l":0.914,"c":0.917},{"d":"2013-07-30","o":0.917,"h":0.920,"l":0.903,"c":0.906},{"d":"2013-07-31","o":0.906,"h":0.910,"l":0.896,"c":0.899},{"d":"2013-08-01","o":0.899,"h":0.903,"l":0.892,"c":0.895},{"d":"2013-08-02","o":0.895,"h":0.901,"l":0.888,"c":0.891},
{"d":"2013-08-05","o":0.891,"h":0.895,"l":0.885,"c":0.887},{"d":"2013-08-06","o":0.887,"h":0.898,"l":0.886,"c":0.895},{"d":"2013-08-07","o":0.895,"h":0.905,"l":0.893,"c":0.903},{"d":"2013-08-08","o":0.903,"h":0.912,"l":0.900,"c":0.910},{"d":"2013-08-09","o":0.910,"h":0.918,"l":0.906,"c":0.914},
{"d":"2013-08-12","o":0.914,"h":0.921,"l":0.911,"c":0.918},{"d":"2013-08-13","o":0.918,"h":0.923,"l":0.910,"c":0.913},{"d":"2013-08-14","o":0.913,"h":0.918,"l":0.908,"c":0.916},{"d":"2013-08-15","o":0.916,"h":0.922,"l":0.912,"c":0.920},{"d":"2013-08-16","o":0.920,"h":0.923,"l":0.911,"c":0.914},
{"d":"2013-08-19","o":0.914,"h":0.917,"l":0.906,"c":0.908},{"d":"2013-08-20","o":0.908,"h":0.911,"l":0.898,"c":0.901},{"d":"2013-08-21","o":0.901,"h":0.904,"l":0.894,"c":0.897},{"d":"2013-08-22","o":0.897,"h":0.902,"l":0.893,"c":0.899},{"d":"2013-08-23","o":0.899,"h":0.903,"l":0.896,"c":0.900},
{"d":"2013-08-26","o":0.900,"h":0.903,"l":0.892,"c":0.894},{"d":"2013-08-27","o":0.894,"h":0.898,"l":0.889,"c":0.891},{"d":"2013-08-28","o":0.891,"h":0.897,"l":0.888,"c":0.895},{"d":"2013-08-29","o":0.895,"h":0.898,"l":0.890,"c":0.892},{"d":"2013-08-30","o":0.892,"h":0.896,"l":0.888,"c":0.890},
{"d":"2013-09-02","o":0.890,"h":0.898,"l":0.889,"c":0.896},{"d":"2013-09-03","o":0.896,"h":0.904,"l":0.893,"c":0.902},{"d":"2013-09-04","o":0.902,"h":0.908,"l":0.899,"c":0.905},{"d":"2013-09-05","o":0.905,"h":0.912,"l":0.902,"c":0.909},{"d":"2013-09-06","o":0.909,"h":0.918,"l":0.906,"c":0.916},
{"d":"2013-09-09","o":0.916,"h":0.924,"l":0.913,"c":0.921},{"d":"2013-09-10","o":0.921,"h":0.932,"l":0.919,"c":0.929},{"d":"2013-09-11","o":0.929,"h":0.935,"l":0.925,"c":0.931},{"d":"2013-09-12","o":0.931,"h":0.937,"l":0.926,"c":0.934},{"d":"2013-09-13","o":0.934,"h":0.938,"l":0.926,"c":0.929},
{"d":"2013-09-16","o":0.929,"h":0.936,"l":0.927,"c":0.933},{"d":"2013-09-17","o":0.933,"h":0.938,"l":0.929,"c":0.936},{"d":"2013-09-18","o":0.936,"h":0.952,"l":0.930,"c":0.949},{"d":"2013-09-19","o":0.949,"h":0.951,"l":0.938,"c":0.941},{"d":"2013-09-20","o":0.941,"h":0.944,"l":0.933,"c":0.936},
{"d":"2013-09-23","o":0.936,"h":0.940,"l":0.930,"c":0.933},{"d":"2013-09-24","o":0.933,"h":0.937,"l":0.928,"c":0.930},{"d":"2013-09-25","o":0.930,"h":0.935,"l":0.926,"c":0.933},{"d":"2013-09-26","o":0.933,"h":0.936,"l":0.927,"c":0.929},{"d":"2013-09-27","o":0.929,"h":0.938,"l":0.927,"c":0.935},
{"d":"2013-09-30","o":0.935,"h":0.937,"l":0.926,"c":0.930},{"d":"2013-10-01","o":0.930,"h":0.943,"l":0.928,"c":0.940},{"d":"2013-10-02","o":0.940,"h":0.946,"l":0.936,"c":0.942},{"d":"2013-10-03","o":0.942,"h":0.947,"l":0.937,"c":0.943},{"d":"2013-10-04","o":0.943,"h":0.948,"l":0.938,"c":0.941},
{"d":"2013-10-07","o":0.941,"h":0.946,"l":0.937,"c":0.944},{"d":"2013-10-08","o":0.944,"h":0.948,"l":0.939,"c":0.942},{"d":"2013-10-09","o":0.942,"h":0.946,"l":0.937,"c":0.940},{"d":"2013-10-10","o":0.940,"h":0.947,"l":0.938,"c":0.945},{"d":"2013-10-11","o":0.945,"h":0.951,"l":0.942,"c":0.949},
{"d":"2013-10-14","o":0.949,"h":0.954,"l":0.944,"c":0.951},{"d":"2013-10-15","o":0.951,"h":0.955,"l":0.946,"c":0.950},{"d":"2013-10-16","o":0.950,"h":0.963,"l":0.948,"c":0.961},{"d":"2013-10-17","o":0.961,"h":0.967,"l":0.957,"c":0.965},{"d":"2013-10-18","o":0.965,"h":0.968,"l":0.962,"c":0.964},
{"d":"2013-10-21","o":0.964,"h":0.969,"l":0.959,"c":0.963},{"d":"2013-10-22","o":0.963,"h":0.974,"l":0.961,"c":0.970},{"d":"2013-10-23","o":0.97006,"h":0.97569,"l":0.96072,"c":0.96215}
],
"ma":[
{"d":"2011-10-18","v":1.041},{"d":"2011-10-31","v":1.0385},{"d":"2011-11-14","v":1.0346},{"d":"2011-11-21","v":1.0286},{"d":"2011-11-30","v":1.0201},{"d":"2011-12-09","v":1.0201},{"d":"2011-12-22","v":1.0152},{"d":"2012-01-02","v":1.0112},{"d":"2012-01-11","v":1.0102},{"d":"2012-01-16","v":1.0102},{"d":"2012-01-26","v":1.0177},{"d":"2012-02-06","v":1.0252},{"d":"2012-02-21","v":1.0311},{"d":"2012-02-27","v":1.0311},{"d":"2012-03-08","v":1.0346},{"d":"2012-03-19","v":1.0385},{"d":"2012-03-28","v":1.044},{"d":"2012-04-09","v":1.045},{"d":"2012-04-23","v":1.0484},{"d":"2012-05-02","v":1.0499},{"d":"2012-05-11","v":1.0484},{"d":"2012-05-23","v":1.0435},{"d":"2012-06-01","v":1.0346},{"d":"2012-06-11","v":1.0272},{"d":"2012-06-19","v":1.0226},{"d":"2012-06-29","v":1.0172},{"d":"2012-07-12","v":1.0132},{"d":"2012-07-27","v":1.0122},{"d":"2012-08-09","v":1.0142},{"d":"2012-08-22","v":1.0152},{"d":"2012-09-04","v":1.0167},{"d":"2012-09-17","v":1.0226},{"d":"2012-10-02","v":1.0301},{"d":"2012-10-17","v":1.0346},{"d":"2012-11-02","v":1.0366},{"d":"2012-11-09","v":1.038},{"d":"2012-11-19","v":1.038},{"d":"2012-12-07","v":1.037},{"d":"2012-12-24","v":1.038},{"d":"2013-01-09","v":1.04},{"d":"2013-01-24","v":1.041},{"d":"2013-02-11","v":1.0425},{"d":"2013-02-25","v":1.042},{"d":"2013-03-14","v":1.0405},{"d":"2013-04-01","v":1.0405},{"d":"2013-04-16","v":1.039},{"d":"2013-05-01","v":1.0375},{"d":"2013-05-10","v":1.0355},{"d":"2013-05-20","v":1.0306},{"d":"2013-05-30","v":1.0222},{"d":"2013-06-17","v":1.0123},{"d":"2013-07-02","v":0.999},{"d":"2013-07-15","v":0.9861},{"d":"2013-07-26","v":0.9713},{"d":"2013-08-09","v":0.9594},{"d":"2013-08-22","v":0.9431},{"d":"2013-09-02","v":0.9317},{"d":"2013-09-10","v":0.9268},{"d":"2013-09-17","v":0.9233},{"d":"2013-09-27","v":0.9208},{"d":"2013-10-10","v":0.9193},{"d":"2013-10-17","v":0.9198},{"d":"2013-10-23","v":0.9223}
],
"lv":[
{"p":1.085,"t":"1.0850","d":"2013-07-28"},{"p":1.075,"t":"1.0750","d":"2013-07-28"},{"p":1.06,"t":"1.0600","d":"2013-07-28"},{"p":1.05,"t":"1.0500","d":"2013-07-28"},{"p":1.035,"t":"1.0350","d":"2013-07-28"},{"p":1.015,"t":"1.0150","d":"2013-07-28"},{"p":1.0,"t":"1.0000","d":"2013-07-28"},{"p":0.985,"t":"0.9850","d":"2013-02-19"},{"p":0.965,"t":"0.9650","d":"2013-02-19"},{"p":0.94,"t":"0.9400","d":"2013-02-19"},{"p":0.9,"t":"0.9000","d":"2013-06-03"},{"p":0.885,"t":"0.8850","d":"2013-06-03"},{"p":0.86,"t":"0.8600","d":"2013-06-03"}
],
"fib":[
{"p":1.06,"t":"100.0"},{"p":0.99315,"t":"61.8"},{"p":0.9725,"t":"50.0"},{"p":0.95185,"t":"38.2"},{"p":0.885,"t":"0.0"}
],
"seg":[
{"g":"fib","id":"f","d":"2013-04-11","p":1.0598},{"g":"fib","id":"f","d":"2013-08-05","p":0.8848},
{"g":"red","id":"r1","d":"2013-02-07","p":1.0188},{"g":"red","id":"r1","d":"2013-04-25","p":1.0683},
{"g":"red","id":"r2","d":"2013-03-02","p":1.0109},{"g":"red","id":"r2","d":"2013-05-08","p":1.0545},
{"g":"red","id":"r3","d":"2013-04-09","p":1.0589},{"g":"red","id":"r3","d":"2013-05-02","p":1.0109},
{"g":"red","id":"r4","d":"2013-04-11","p":1.0554},{"g":"red","id":"r4","d":"2013-05-16","p":1.0233},
{"g":"blk","id":"k1","d":"2013-05-24","p":0.9664},{"g":"blk","id":"k1","d":"2013-06-06","p":0.9837},
{"g":"blk","id":"k2","d":"2013-05-28","p":0.952},{"g":"blk","id":"k2","d":"2013-06-10","p":0.9698},
{"g":"blk","id":"k3","d":"2013-07-08","p":0.9362},{"g":"blk","id":"k3","d":"2013-09-20","p":0.9134},
{"g":"blk","id":"k4","d":"2013-09-19","p":0.952},{"g":"blk","id":"k4","d":"2013-10-06","p":0.9258},
{"g":"blk","id":"k5","d":"2013-09-18","p":0.9372},{"g":"blk","id":"k5","d":"2013-10-06","p":0.9218}
],
"rect":[
{"d1":"2013-06-29","d2":"2013-07-22","p1":0.9075,"p2":0.8921},
{"d1":"2013-07-24","d2":"2013-08-14","p1":0.8951,"p2":0.8798},
{"d1":"2013-08-20","d2":"2013-09-10","p1":0.8991,"p2":0.8832}
],
"bx":[
{"p":0.96215,"k":"cur"},{"p":1.085,"k":"lv"},{"p":1.075,"k":"lv"},{"p":1.06,"k":"lv"},{"p":1.05,"k":"lv"},{"p":1.035,"k":"lv"},{"p":1.015,"k":"lv"},{"p":1.0,"k":"lv"},{"p":0.985,"k":"lv"},{"p":0.965,"k":"lv"},{"p":0.94,"k":"lv"},{"p":0.9,"k":"lv"},{"p":0.885,"k":"lv"},{"p":0.86,"k":"lv"}
]
},
"layer":[
{"data":{"name":"rect"},"mark":{"type":"rect","color":"#ffd700"},
 "encoding":{"x":{"field":"d1"},"x2":{"field":"d2"},"y":{"field":"p1"},"y2":{"field":"p2"}}},
{"data":{"name":"bx"},"transform":[{"filter":"datum.k=='cur'"}],"mark":{"type":"rule","color":"#c8c8c8","strokeWidth":1},
 "encoding":{"y":{"field":"p"}}},
{"data":{"name":"c"},"mark":{"type":"rule","strokeWidth":1},
 "encoding":{"x":{"field":"d"},"y":{"field":"l"},"y2":{"field":"h"},
  "color":{"condition":{"test":"datum.c >= datum.o","value":"#2e9b2e"},"value":"#ff2828"}}},
{"data":{"name":"c"},"mark":{"type":"rule","strokeWidth":1.8,"opacity":0.55,"strokeCap":"butt"},
 "encoding":{"x":{"field":"d"},"y":{"field":"o"},"y2":{"field":"c"},
  "color":{"condition":{"test":"datum.c >= datum.o","value":"#4fb84f"},"value":"#ff5c5c"}}},
{"data":{"name":"ma"},"mark":{"type":"line","color":"#1c1c8e","strokeWidth":2,"interpolate":"monotone"},
 "encoding":{"x":{"field":"d"},"y":{"field":"v"}}},
{"data":{"name":"lv"},"mark":{"type":"rule","color":"#151515"},
 "encoding":{"y":{"field":"p"},
  "strokeWidth":{"condition":{"test":"datum.p==1.06 || datum.p==1.035 || datum.p==1.015","value":2.6},"value":2}}},
{"data":{"name":"fib"},"mark":{"type":"rule","color":"#1f1f96","strokeWidth":1.6},
 "encoding":{"x":{"datum":{"year":2013,"month":4,"date":10,"utc":true}},"x2":{"datum":{"year":2013,"month":11,"date":10,"hours":12,"utc":true}},"y":{"field":"p"}}},
{"data":{"name":"fib"},"mark":{"type":"text","align":"right","baseline":"alphabetic","dx":-1,"dy":-1.5,"fontSize":7,"color":"#3030a8"},
 "encoding":{"x":{"datum":{"year":2013,"month":11,"date":10,"hours":12,"utc":true}},"y":{"field":"p"},"text":{"field":"t"}}},
{"data":{"name":"seg"},"transform":[{"filter":"datum.g=='fib'"}],"mark":{"type":"line","color":"#4848c0","strokeWidth":1,"strokeDash":[2,2]},
 "encoding":{"x":{"field":"d"},"y":{"field":"p"},"detail":{"field":"id"}}},
{"data":{"name":"seg"},"transform":[{"filter":"datum.g=='red'"}],"mark":{"type":"line","color":"#ff5050","strokeWidth":1},
 "encoding":{"x":{"field":"d"},"y":{"field":"p"},"detail":{"field":"id"}}},
{"data":{"name":"seg"},"transform":[{"filter":"datum.g=='blk'"}],"mark":{"type":"line","color":"#111111","strokeWidth":1.8},
 "encoding":{"x":{"field":"d"},"y":{"field":"p"},"detail":{"field":"id"}}},
{"data":{"name":"lv"},"mark":{"type":"text","align":"center","baseline":"alphabetic","dy":-3.5,"color":"#1a1a1a"},
 "encoding":{"x":{"field":"d"},"y":{"field":"p"},"text":{"field":"t"},
  "size":{"condition":{"test":"datum.p==1.06 || datum.p==1.015 || datum.p==1","value":14},"value":12}}},
{"data":{"values":[{}]},"mark":{"type":"text","align":"left","baseline":"middle","dx":3,"fontSize":7.5,"color":"#000000"},
 "encoding":{"x":{"datum":{"year":2011,"month":10,"date":18,"utc":true}},"y":{"datum":1.1173},"text":{"value":"▼ AUDUSD,Daily  0.97006 0.97569 0.96072 0.96215"}}},
{"data":{"name":"bx"},"mark":{"type":"tick","orient":"horizontal","size":31,"thickness":9},
 "encoding":{"x":{"datum":{"year":2013,"month":11,"date":24,"hours":7,"utc":true}},"y":{"field":"p"},
  "color":{"condition":{"test":"datum.k=='cur'","value":"#555555"},"value":"#000000"}}},
{"data":{"name":"bx"},"mark":{"type":"text","align":"center","baseline":"middle","fontSize":7,"color":"#ffffff"},
 "encoding":{"x":{"datum":{"year":2013,"month":11,"date":24,"hours":7,"utc":true}},"y":{"field":"p"},"text":{"field":"p","type":"quantitative","format":".5f"}}}
]
}
